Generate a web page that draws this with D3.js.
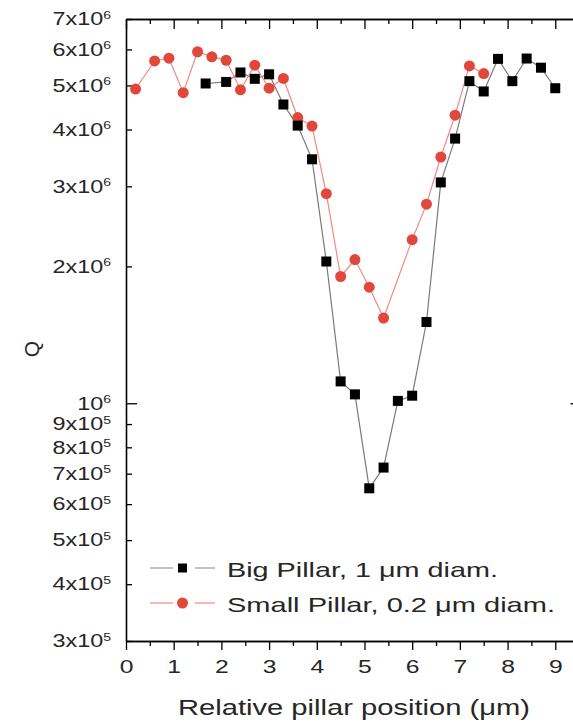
<!DOCTYPE html>
<html>
<head>
<meta charset="utf-8">
<script src="https://cdn.jsdelivr.net/npm/d3@7"></script>
<style>
  html, body { margin: 0; padding: 0; background: #fff; }
  svg { display: block; overflow: hidden; font-family: "Liberation Sans", Arial, sans-serif; }
</style>
</head>
<body>
<svg id="chart" width="573" height="728"></svg>
<script>
// ---- data ----
const bigX = [1.67, 2.1, 2.4, 2.7, 3.0, 3.3, 3.6, 3.9, 4.2, 4.5, 4.8, 5.1, 5.4, 5.7, 6.0, 6.3, 6.6, 6.9, 7.2, 7.5, 7.8, 8.1, 8.4, 8.7, 9.0];
const bigQ = [5.05e6, 5.09e6, 5.34e6, 5.17e6, 5.29e6, 4.54e6, 4.08e6, 3.44e6, 2.05e6, 1.117e6, 1.046e6, 6.5e5, 7.22e5, 1.012e6, 1.039e6, 1.509e6, 3.06e6, 3.82e6, 5.11e6, 4.85e6, 5.72e6, 5.11e6, 5.73e6, 5.47e6, 4.93e6];
const smallX = [0.2, 0.6, 0.9, 1.2, 1.5, 1.8, 2.1, 2.4, 2.7, 3.0, 3.3, 3.6, 3.9, 4.2, 4.5, 4.8, 5.1, 5.4, 6.0, 6.3, 6.6, 6.9, 7.2, 7.5];
const smallQ = [4.91e6, 5.66e6, 5.74e6, 4.82e6, 5.93e6, 5.78e6, 5.68e6, 4.89e6, 5.54e6, 4.93e6, 5.18e6, 4.25e6, 4.07e6, 2.89e6, 1.90e6, 2.07e6, 1.80e6, 1.54e6, 2.29e6, 2.74e6, 3.48e6, 4.30e6, 5.52e6, 5.31e6];
const seriesNames = ["Big Pillar, 1 \u03bcm diam.", "Small Pillar, 0.2 \u03bcm diam."];
const xTicks = [0, 1, 2, 3, 4, 5, 6, 7, 8, 9];
const xMinorTicks = [0.5, 1.5, 2.5, 3.5, 4.5, 5.5, 6.5, 7.5, 8.5, 9.5];
const yTicks = [3e5, 4e5, 5e5, 6e5, 7e5, 8e5, 9e5, 1e6, 2e6, 3e6, 4e6, 5e6, 6e6, 7e6];
const yMajorTicks = [1e6];
const xTitle = "Relative pillar position (\u03bcm)";
const yTitle = "Q";

// ---- layout ----
const L = 126, R = 581.5, T = 19, B = 641;
const SX = 1.3; // horizontal stretch of the reference lettering
const svg = d3.select("#chart");
const x = d3.scaleLinear().domain([0, 9.55]).range([L, R]);
const y = d3.scaleLog().domain([3e5, 7e6]).range([B, T]);
const textColor = "#262626";

// bottom axis
const gB = svg.append("g").attr("transform", `translate(0,${B})`)
  .call(d3.axisBottom(x).tickValues(xTicks).tickSize(9).tickPadding(10).tickSizeOuter(0).tickFormat(d3.format("d")));
gB.append("g").call(d3.axisBottom(x).tickValues(xMinorTicks).tickSize(5).tickSizeOuter(0).tickFormat(""));
// top axis
const gT = svg.append("g").attr("transform", `translate(0,${T})`)
  .call(d3.axisTop(x).tickValues(xTicks).tickSize(-10).tickSizeOuter(0).tickFormat(""));
gT.append("g").call(d3.axisTop(x).tickValues(xMinorTicks).tickSize(-5).tickSizeOuter(0).tickFormat(""));
// left axis
const gL = svg.append("g").attr("transform", `translate(${L},0)`)
  .call(d3.axisLeft(y).tickValues(yTicks).tickSizeInner(-6).tickSizeOuter(0).tickPadding(15));
gL.selectAll(".tick line").filter(d => yMajorTicks.includes(d)).attr("x2", 11);
gL.selectAll(".tick text").each(function(d) {
  const e = Math.floor(Math.log10(d) + 1e-9);
  const m = Math.round(d / Math.pow(10, e));
  const t = d3.select(this).text("");
  t.append("tspan").text(m === 1 ? "10" : m + "x10");
  t.append("tspan").attr("dy", "-0.62em").attr("font-size", "0.6em").text(e);
});
// right axis
const gR = svg.append("g").attr("transform", `translate(${R},0)`)
  .call(d3.axisRight(y).tickValues(yTicks).tickSizeInner(-6).tickSizeOuter(0).tickFormat(""));
gR.selectAll(".tick line").filter(d => yMajorTicks.includes(d)).attr("x2", -11);

[gB, gT, gL, gR].forEach(g => {
  g.selectAll(".domain").attr("stroke", "#000").attr("stroke-width", 1.6);
  g.selectAll(".tick line").attr("stroke", "#000").attr("stroke-width", 1.3);
  g.selectAll("text").attr("fill", textColor).attr("font-size", 18).attr("font-family", "Liberation Sans, Arial, sans-serif");
});
gB.selectAll(".tick text").attr("font-size", 19)
  .attr("transform", `scale(${SX},1)`);
gL.selectAll(".tick text").attr("transform", `translate(-15,0) scale(${SX},1) translate(15,0)`);

// titles
svg.append("text").attr("x", 178).attr("y", 715).attr("text-anchor", "start")
  .attr("font-size", 22).attr("fill", textColor)
  .attr("textLength", 352).attr("lengthAdjust", "spacingAndGlyphs").text(xTitle);
svg.append("text").attr("transform", "translate(39,349) rotate(-90)").attr("text-anchor", "middle")
  .attr("font-size", 21).attr("fill", textColor).text(yTitle);

// series
const bigData = bigX.map((v, i) => [v, bigQ[i]]);
const smallData = smallX.map((v, i) => [v, smallQ[i]]);
const line = d3.line().x(d => x(d[0])).y(d => y(d[1]));
const plot = svg.append("g");
plot.append("path").datum(bigData).attr("d", line).attr("fill", "none").attr("stroke", "#7a7a7a").attr("stroke-width", 1.2);
plot.append("path").datum(smallData).attr("d", line).attr("fill", "none").attr("stroke", "#f08a84").attr("stroke-width", 1.2);
const redFill = "#e2473c";
plot.selectAll("circle.s").data(smallData).join("circle").attr("class", "s")
  .attr("cx", d => x(d[0])).attr("cy", d => y(d[1])).attr("r", 5.5).attr("fill", redFill);
plot.selectAll("rect.b").data(bigData).join("rect").attr("class", "b")
  .attr("x", d => x(d[0]) - 5).attr("y", d => y(d[1]) - 5).attr("width", 10).attr("height", 10).attr("fill", "#000");

// legend
const lg = svg.append("g");
const legendRows = [
  { name: seriesNames[0], y: 568, stroke: "#9a9a9a", marker: "square", len: 271 },
  { name: seriesNames[1], y: 603, stroke: "#f08a84", marker: "circle", len: 328 }
];
legendRows.forEach(r => {
  lg.append("line").attr("x1", 150).attr("x2", 173).attr("y1", r.y).attr("y2", r.y).attr("stroke", r.stroke).attr("stroke-width", 1.2);
  lg.append("line").attr("x1", 195).attr("x2", 215).attr("y1", r.y).attr("y2", r.y).attr("stroke", r.stroke).attr("stroke-width", 1.2);
  if (r.marker === "square") {
    lg.append("rect").attr("x", 178).attr("y", r.y - 4.5).attr("width", 9).attr("height", 9).attr("fill", "#000");
  } else {
    lg.append("circle").attr("cx", 182.5).attr("cy", r.y).attr("r", 5.5).attr("fill", redFill);
  }
  lg.append("text").attr("x", 227).attr("y", r.y + 9).attr("font-size", 21).attr("fill", textColor)
    .attr("textLength", r.len).attr("lengthAdjust", "spacingAndGlyphs").text(r.name);
});
</script>
</body>
</html>
